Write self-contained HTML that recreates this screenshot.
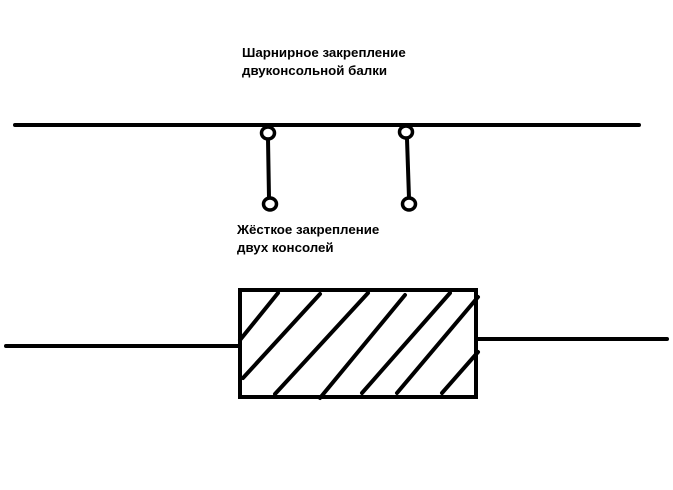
<!DOCTYPE html>
<html><head><meta charset="utf-8"><style>
html,body{margin:0;padding:0;background:#fff;}
body{width:673px;height:490px;position:relative;overflow:hidden;}
.t{position:absolute;font-family:"Liberation Sans",sans-serif;font-weight:bold;font-size:13.3px;line-height:18px;color:#000;white-space:nowrap;}
svg{position:absolute;left:0;top:0;}
</style></head><body>
<svg width="673" height="490" viewBox="0 0 673 490">
<g stroke="#000" stroke-width="4" stroke-linecap="round" fill="none">
<line x1="15" y1="125" x2="639" y2="125"/>
<line x1="268" y1="139" x2="269" y2="198"/>
<line x1="407" y1="139" x2="409" y2="198"/>
<line x1="6" y1="346" x2="240" y2="346"/>
<line x1="476" y1="339" x2="667" y2="339"/>
</g>
<g stroke="#000" stroke-width="3.5" fill="#fff">
<ellipse cx="268" cy="133" rx="6.5" ry="6"/>
<ellipse cx="406" cy="132" rx="6.5" ry="6"/>
<ellipse cx="270" cy="204" rx="6.5" ry="6"/>
<ellipse cx="409" cy="204" rx="6.5" ry="6"/>
</g>
<rect x="240" y="290" width="236" height="107" stroke="#000" stroke-width="4" fill="none"/>
<g stroke="#000" stroke-width="4" stroke-linecap="round">
<line x1="240" y1="340" x2="278" y2="293"/>
<line x1="243" y1="378" x2="320" y2="294"/>
<line x1="275" y1="394" x2="368" y2="293"/>
<line x1="320" y1="398" x2="405" y2="295"/>
<line x1="362" y1="393" x2="450" y2="293"/>
<line x1="397" y1="393" x2="478" y2="297"/>
<line x1="442" y1="393" x2="478" y2="352"/>
</g>
</svg>
<div class="t" style="left:242px;top:44px;">Шарнирное закрепление<br>двуконсольной балки</div>
<div class="t" style="left:237px;top:221px;">Жёсткое закрепление<br>двух консолей</div>
</body></html>
